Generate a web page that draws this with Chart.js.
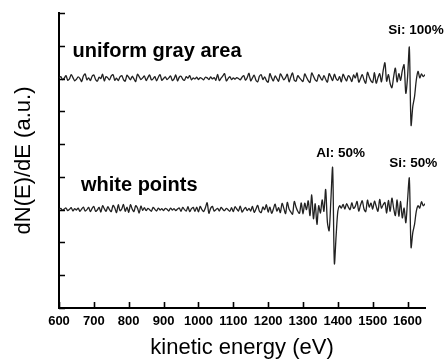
<!DOCTYPE html>
<html>
<head>
<meta charset="utf-8">
<script src="https://cdn.jsdelivr.net/npm/chart.js@4"></script>
<style>
	html, body { margin: 0; padding: 0; background: #fff; }
	#wrap { width: 444px; height: 362px; }
</style>
</head>
<body>
<div id="wrap"><canvas id="auger"></canvas></div>
<script>
// energy grid of both spectra: 600 eV to 1650 eV, one sample every 5 eV
const energyStart = 600;
const energyStep = 5;

const xTicks = [600, 700, 800, 900, 1000, 1100, 1200, 1300, 1400, 1500, 1600];

// dN(E)/dE, arbitrary units (gray area trace sits near 7, white points near 3)
const grayArea = [
	7.02, 7.06, 6.97, 7.01, 7.09, 6.95, 6.99, 7.12, 7.03, 6.93,
	6.98, 7.05, 7.00, 6.91, 7.08, 7.14, 6.96, 7.02, 6.94, 7.07,
	7.11, 6.97, 6.92, 7.04, 7.00, 7.13, 6.93, 7.06, 7.02, 6.96,
	7.08, 7.12, 6.95, 7.01, 6.94, 7.05, 7.09, 6.97, 6.92, 7.10,
	7.04, 6.96, 7.07, 6.99, 6.91, 7.13, 7.06, 6.97, 7.02, 7.08,
	6.94, 7.03, 7.11, 6.96, 6.99, 7.06, 6.93, 7.04, 7.12, 6.95,
	7.00, 7.05, 6.97, 7.02, 7.08, 6.94, 6.99, 7.11, 6.93, 7.04,
	7.07, 6.98, 6.95, 7.06, 7.01, 7.09, 6.96, 7.02, 6.99, 7.04,
	6.97, 7.03, 7.00, 6.96, 7.04, 7.02, 6.97, 7.05, 6.99, 7.03,
	6.95, 7.13, 6.94, 7.01, 7.08, 7.15, 6.93, 7.00, 7.06, 6.97,
	7.02, 6.98, 7.03, 7.00, 6.96, 7.04, 7.09, 6.95, 7.03, 7.16,
	6.93, 7.02, 7.10, 6.95, 6.90, 7.07, 7.12, 6.97, 7.05, 6.94,
	6.89, 7.15, 7.02, 6.93, 7.08, 7.00, 6.92, 7.14, 7.06, 6.96,
	7.03, 7.13, 6.90, 7.05, 7.17, 6.95, 6.92, 7.09, 7.02, 6.96,
	6.91, 7.14, 7.04, 6.94, 6.88, 7.17, 7.07, 6.96, 6.92, 7.12,
	7.03, 6.95, 7.09, 6.98, 6.89, 7.15, 7.05, 6.94, 7.13, 7.00,
	6.95, 7.06, 6.90, 7.13, 7.02, 6.93, 7.09, 7.03, 6.91, 7.11,
	7.02, 7.17, 6.89, 7.00, 7.12, 6.96, 6.86, 7.19, 7.05, 6.93,
	6.88, 7.18, 6.86, 7.02, 7.15, 6.90, 7.24, 7.48, 6.92, 7.12,
	6.85, 6.72, 7.05, 7.32, 6.90, 7.15, 6.95, 7.25, 7.42, 6.55,
	7.05, 7.95, 5.58, 6.15, 6.45, 6.95, 7.22, 7.02, 7.14, 7.06, 7.12
];

const whitePoints = [
	3.00, 3.04, 2.98, 3.02, 3.05, 2.97, 3.01, 3.06, 2.96, 3.03,
	2.99, 3.05, 2.95, 3.02, 3.08, 2.96, 3.00, 3.07, 2.94, 3.04,
	3.10, 2.95, 2.99, 3.07, 2.93, 3.12, 3.03, 2.95, 3.09, 3.00,
	2.94, 3.13, 3.05, 2.91, 3.15, 2.97, 3.02, 3.16, 2.95, 3.08,
	2.92, 3.15, 3.02, 2.94, 3.12, 3.05, 2.90, 3.11, 2.98, 3.06,
	2.97, 3.04, 3.00, 2.95, 3.07, 3.01, 2.96, 3.05, 2.99, 3.03,
	2.97, 3.04, 3.01, 2.96, 3.05, 2.99, 3.03, 2.97, 3.02, 3.05,
	2.95, 3.07, 3.00, 2.96, 3.09, 2.94, 3.03, 3.07, 2.95, 3.08,
	2.93, 3.10, 3.00, 2.94, 3.06, 3.21, 2.89, 3.04, 3.10, 2.96,
	3.00, 3.04, 2.96, 3.07, 3.01, 2.97, 3.04, 3.00, 2.95, 3.06,
	2.94, 3.09, 3.02, 2.96, 3.11, 2.93, 3.00, 3.07, 2.97, 3.04,
	2.96, 3.10, 2.92, 3.02, 3.13, 2.95, 2.91, 3.08, 3.00, 3.15,
	2.93, 3.08, 2.89, 3.02, 3.17, 2.96, 3.06, 2.91, 3.19, 3.04,
	2.88, 3.22, 3.02, 2.93, 2.86, 3.25, 3.08, 2.95, 2.89, 3.21,
	2.87, 3.20, 3.00, 3.27, 2.82, 3.45, 2.72, 3.18, 2.55, 3.12,
	2.90, 3.30, 2.95, 3.62, 2.62, 2.36, 3.30, 4.28, 1.36, 2.20,
	2.96, 3.12, 3.05, 3.16, 3.02, 3.18, 3.08, 3.00, 3.21, 3.04,
	3.10, 3.25, 2.96, 3.14, 3.27, 3.02, 2.94, 3.29, 3.08, 3.20,
	3.02, 3.26, 3.10, 2.95, 3.31, 3.05, 3.15, 3.22, 2.90, 3.28,
	2.95, 3.35, 3.05, 2.82, 3.30, 2.80, 3.25, 2.75, 3.05, 2.60,
	3.30, 3.96, 1.85, 2.30, 2.55, 2.95, 3.12, 3.05, 3.24, 3.12, 3.18
];

const FONT = "'Liberation Sans', Arial, sans-serif";

const toPoints = values => values.map((v, i) => ({ x: energyStart + i * energyStep, y: v }));

// text labels drawn on the plot, placed in data coordinates
const notes = [
	{ text: "uniform gray area", x: 639, y: 7.67, size: 20, align: "left" },
	{ text: "white points", x: 663, y: 3.58, size: 20, align: "left" },
	{ text: "Si: 100%", x: 1624, y: 8.36, size: 13.5, align: "center" },
	{ text: "Al: 50%", x: 1408, y: 4.6, size: 13.5, align: "center" },
	{ text: "Si: 50%", x: 1616, y: 4.29, size: 13.5, align: "center" }
];

const notesPlugin = {
	id: "notes",
	afterDatasetsDraw(chart) {
		const { ctx, scales: { x, y } } = chart;
		ctx.save();
		ctx.fillStyle = "#000";
		ctx.textBaseline = "alphabetic";
		notes.forEach(n => {
			ctx.font = "bold " + n.size + "px " + FONT;
			ctx.textAlign = n.align;
			ctx.fillText(n.text, x.getPixelForValue(n.x), y.getPixelForValue(n.y));
		});
		ctx.restore();
	}
};

// tick marks pointing into the plot, like the original figure
const innerTicks = {
	id: "innerTicks",
	afterDraw(chart) {
		const { ctx, chartArea: a, scales: { x, y } } = chart;
		ctx.save();
		ctx.strokeStyle = "#000";
		ctx.lineWidth = 1.6;
		ctx.beginPath();
		x.ticks.forEach(t => {
			const px = Math.round(x.getPixelForValue(t.value)) + 0.5;
			ctx.moveTo(px, a.bottom);
			ctx.lineTo(px, a.bottom - 6);
		});
		y.ticks.forEach(t => {
			const py = Math.round(y.getPixelForValue(t.value)) + 0.5;
			ctx.moveTo(a.left, py);
			ctx.lineTo(a.left + 6, py);
		});
		ctx.stroke();
		ctx.restore();
	}
};

const lineStyle = {
	pointStyle: false,
	borderWidth: 1.3,
	borderColor: "#222",
	tension: 0.3
};

new Chart(document.getElementById("auger"), {
	type: "line",
	data: {
		datasets: [
			{ ...lineStyle, label: "uniform gray area", data: toPoints(grayArea) },
			{ ...lineStyle, label: "white points", data: toPoints(whitePoints) }
		]
	},
	options: {
		responsive: true,
		maintainAspectRatio: false,
		animation: false,
		layout: { padding: { top: 13, right: 19, left: 0, bottom: 0 } },
		scales: {
			x: {
				type: "linear",
				min: 600,
				max: 1650,
				afterFit: s => { s.height = 54; },
				afterBuildTicks: axis => (axis.ticks = xTicks.map(value => ({ value }))),
				grid: { display: false, drawTicks: false },
				border: { color: "#000", width: 2 },
				ticks: {
					color: "#000",
					padding: 6,
					maxRotation: 0,
					autoSkip: false,
					callback: v => String(v),
					font: { family: FONT, size: 13, weight: "bold" }
				},
				title: {
					display: true,
					text: "kinetic energy (eV)",
					color: "#000",
					padding: { top: 0, bottom: 1 },
					font: { family: FONT, size: 22 }
				}
			},
			y: {
				min: 0,
				max: 9,
				afterFit: s => { s.width = 59; },
				grid: { display: false, drawTicks: false },
				border: { color: "#000", width: 2 },
				ticks: { display: false, stepSize: 1 },
				title: {
					display: true,
					text: "dN(E)/dE (a.u.)",
					color: "#000",
					padding: { top: 11, bottom: 0 },
					font: { family: FONT, size: 22 }
				}
			}
		},
		plugins: {
			legend: { display: false },
			tooltip: { enabled: false }
		}
	},
	plugins: [notesPlugin, innerTicks]
});
</script>
</body>
</html>
